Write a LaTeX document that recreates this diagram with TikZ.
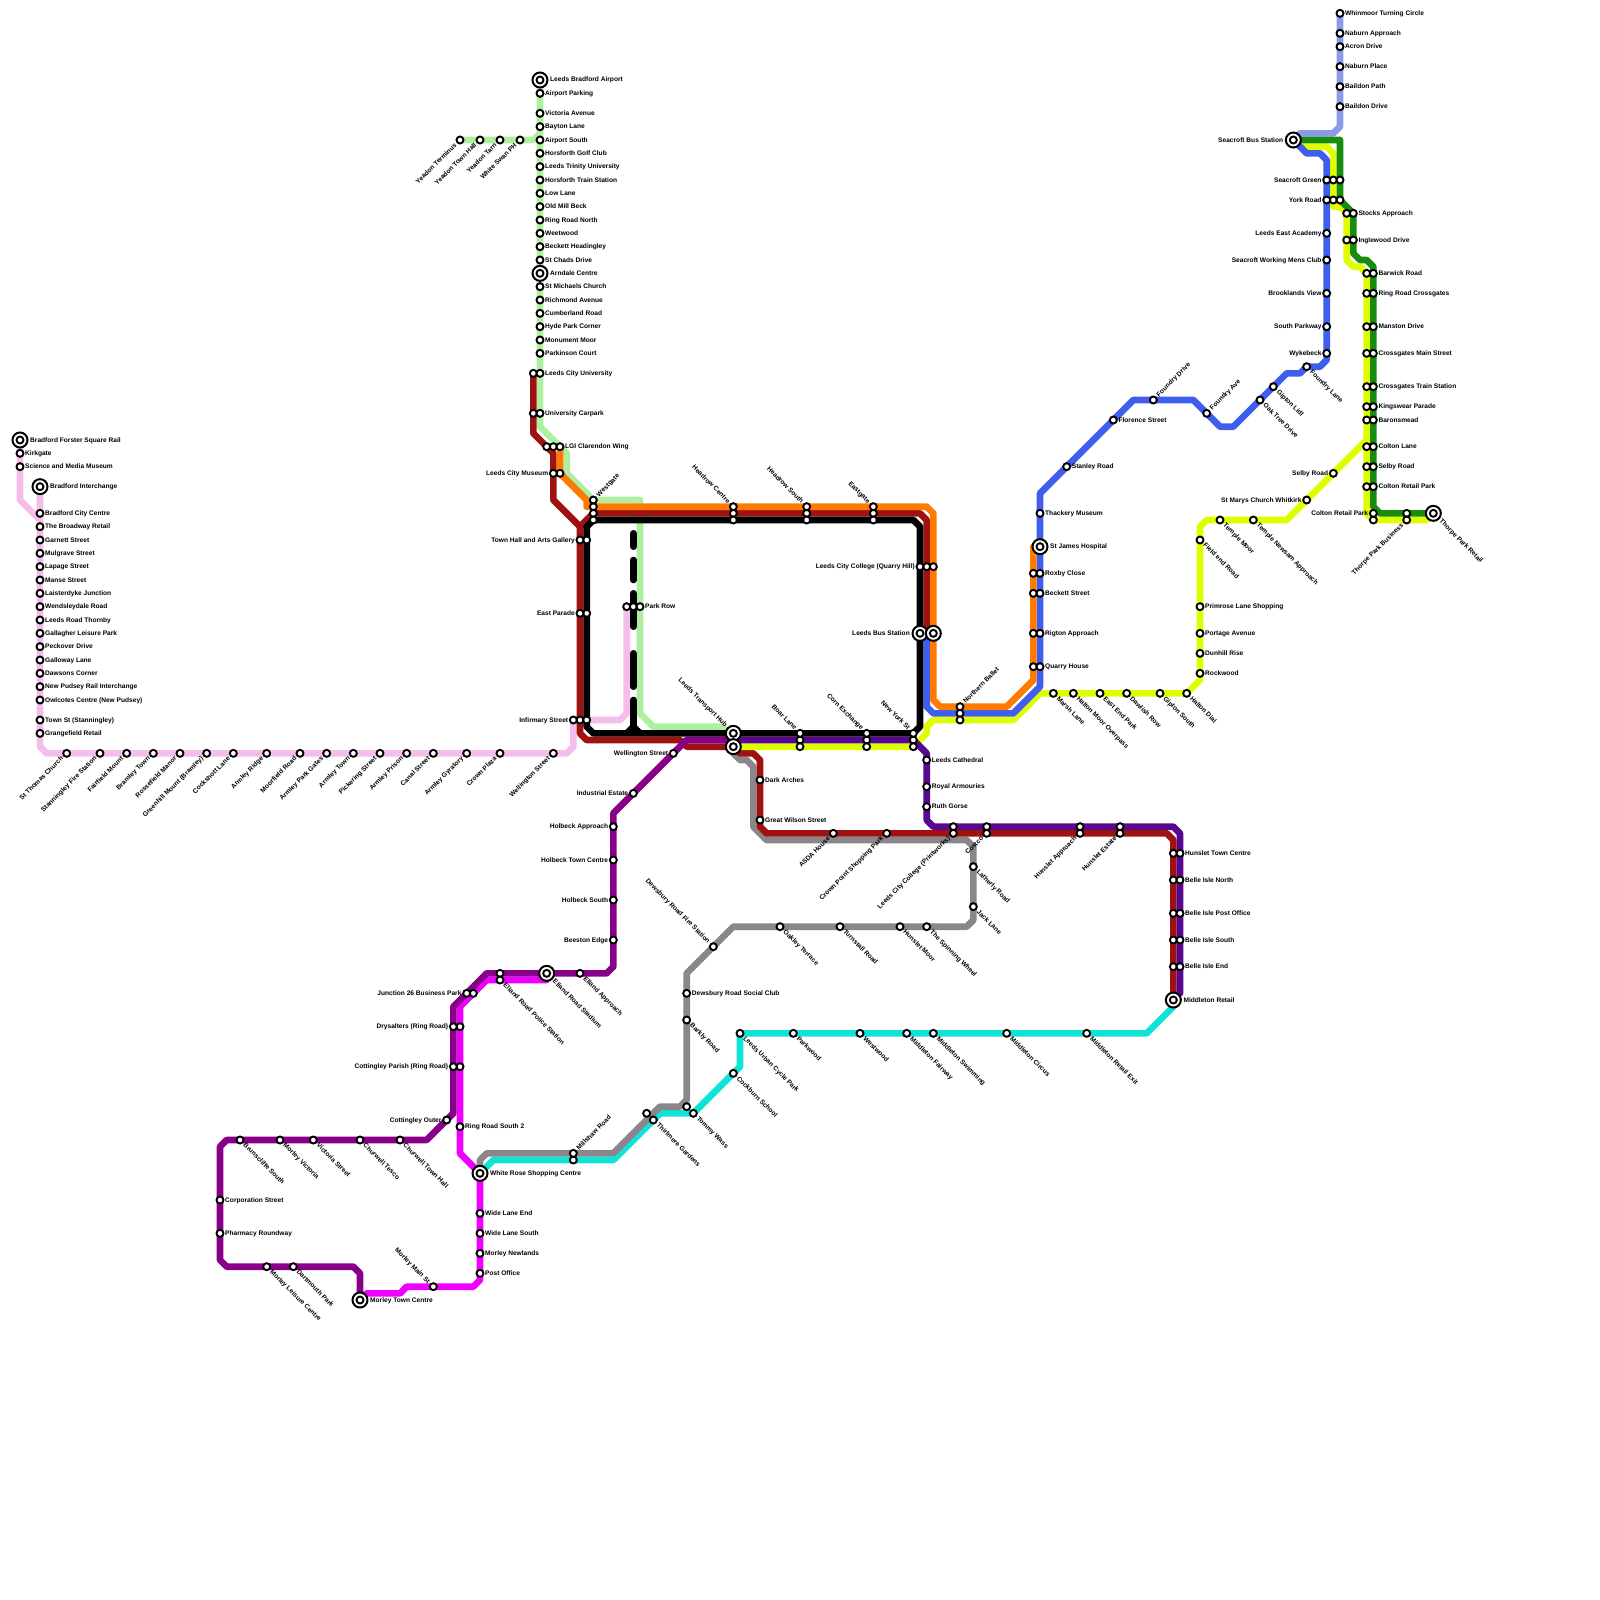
\documentclass[tikz,border=0pt]{standalone}
\usepackage{fontspec}
\setmainfont{Liberation Sans}
\definecolor{lnpink}{HTML}{F5BDEA}
\definecolor{lngreen}{HTML}{AEEFA2}
\definecolor{lnperi}{HTML}{8B9BE8}
\definecolor{lncyan}{HTML}{0FE3D6}
\definecolor{lnmagenta}{HTML}{EE00FF}
\definecolor{lngrey}{HTML}{8A868C}
\definecolor{lnred}{HTML}{9F1212}
\definecolor{lnpurple}{HTML}{880088}
\definecolor{lnlime}{HTML}{DFFF00}
\definecolor{lnblue}{HTML}{405EED}
\definecolor{lnorange}{HTML}{FF7A00}
\definecolor{lnforest}{HTML}{178C0E}
\definecolor{lnindigo}{HTML}{57088F}
\begin{document}
\begin{tikzpicture}[
  x=6.6667pt,y=-6.6667pt,
  route/.style={line width=6.6667pt, line cap=round, line join=round},
  stop/.style={circle, draw=black, fill=white, line width=1.9pt, minimum size=7pt, inner sep=0pt},
  hub/.style={circle, draw=black, fill=white, line width=2pt, minimum size=15pt, inner sep=0pt},
  lbl/.style={font=\bfseries\fontsize{6.6}{7}\selectfont, inner ysep=0pt, inner xsep=5pt, text height=5pt, text depth=1pt},
  lblr/.style={lbl, anchor=west},
  lbll/.style={lbl, anchor=east},
  lbldr/.style={lbl, rotate=-45, anchor=west, inner xsep=6pt},
  lblul/.style={lbl, rotate=-45, anchor=east, inner xsep=6pt},
  lblur/.style={lbl, rotate=45, anchor=west, inner xsep=6pt},
  lbldl/.style={lbl, rotate=45, anchor=east, inner xsep=6pt}
]
\useasboundingbox (0,0) rectangle (240,240);

% routes
\draw[route, lnpink] (3,66) -- (3,75) -- (6,78) (6,73) -- (6,112) -- (7,113) -- (85,113) -- (86,112) -- (86,108) -- (93,108) -- (94,107) -- (94,91);
\draw[route, lngreen] (69,21) -- (80,21) -- (81,20) (81,12) -- (81,64) -- (85,68) -- (85,71) -- (89,75) -- (96,75) -- (96,107) -- (98,109) -- (108,109) -- (110,110);
\draw[route, lnperi] (201,2) -- (201,19) -- (200,20) -- (195,20) -- (194,21);
\draw[route, lncyan] (72,176) -- (74,174) -- (92,174) -- (99,167) -- (104,167) -- (111,160) -- (111,155) -- (172,155) -- (176,151);
\draw[route, lnmagenta] (54,195) -- (55,194) -- (60,194) -- (61,193) -- (71,193) -- (72,192) -- (72,176) -- (69,173) -- (69,151) -- (73,147) -- (82,147);
\draw[route, lngrey] (72,176) -- (72,174) -- (73,173) -- (92,173) -- (99,166) -- (102,166) -- (103,165) -- (103,146) -- (110,139) -- (145,139) -- (146,138) -- (146,127) -- (145,126) -- (115,126) -- (113,124) -- (113,115) -- (112,114) -- (111,114) -- (110,113) -- (110,112);
\draw[route, lnred] (80,56) -- (80,65) -- (83,68) -- (83,75) -- (87,79) -- (87,110) -- (88,111) -- (102,111) -- (103,112) -- (110,112) -- (111,113) -- (113,113) -- (114,114) -- (114,124) -- (115,125) -- (175,125) -- (176,126) -- (176,150);
\draw[route, lnred] (87,79) -- (89,77) -- (138,77) -- (139,78) -- (139,95);
\draw[route, lnpurple] (110,111) -- (103,111) -- (92,122) -- (92,145) -- (91,146) -- (73,146) -- (68,151) -- (68,167) -- (64,171) -- (34,171) -- (33,172) -- (33,189) -- (34,190) -- (53,190) -- (54,191) -- (54,195);
\draw[route, lnlime] (110,112) -- (137,112) -- (139,110) -- (139,109) -- (140,108) -- (152,108) -- (156,104) -- (178,104) -- (180,102) -- (180,79) -- (181,78) -- (193,78) -- (205,66);
\draw[route, lnlime] (194,21) -- (195,22) -- (199,22) -- (200,23) -- (200,31) -- (201,31) -- (202,32) -- (202,39) -- (203,40) -- (204,40) -- (205,41) -- (205,77) -- (206,78) -- (214,78) -- (215,77);
\draw[route, lnblue] (139,95) -- (139,106) -- (140,107) -- (152,107) -- (156,103) -- (156,74) -- (170,60) -- (179,60) -- (183,64) -- (185,64) -- (193,56) -- (195,56) -- (196,55) -- (198,55) -- (199,54) -- (199,24) -- (198,23) -- (196,23) -- (194,21);
\draw[route, lnorange] (84,67) -- (84,71) -- (88,75) -- (88,76) -- (139,76) -- (140,77) -- (140,105) -- (141,106) -- (151,106) -- (155,102) -- (155,82) -- (156,82);
\draw[route, lnforest] (194,21) -- (201,21) -- (201,30) -- (203,32) -- (203,38) -- (204,39) -- (205,39) -- (206,40) -- (206,76) -- (207,77) -- (215,77);
\draw[route, lnindigo] (110,111) -- (137,111) -- (139,113) -- (139,123) -- (140,124) -- (176,124) -- (177,125) -- (177,149);
\draw[route, black] (89,78) -- (88,79) -- (88,109) -- (89,110) -- (137,110) -- (138,109) -- (138,79) -- (137,78) -- cycle;

% the dashed line
\foreach \ya/\yb in {80/82,84/87,89/94,98/103,105/109}
  \draw[route, black] (95,\ya) -- (95,\yb);
\draw[route, black, line cap=butt] (94,110) -- (95,109) -- (96,110);

% stops with no text of their own
\foreach \x/\y [count=\i] in {80/56,80/62,82/67,83/67,84/71,94/91,95/91,87/108,88/108,88/81,88/92,
  89/76,89/77,89/78,110/77,110/78,121/77,121/78,131/77,131/78,120/111,120/112,130/111,130/112,137/111,137/112,
  139/85,140/85,155/86,155/89,155/95,155/100,144/107,144/108,176/128,176/132,176/137,176/141,176/145,
  143/124,148/124,162/124,168/124,75/146,71/149,69/154,69/160,86/174,97/167,103/166,
  200/27,201/27,200/30,201/30,202/32,202/36,205/41,205/44,205/49,205/53,205/58,205/61,205/63,205/67,205/70,205/73,211/77,206/78}
  \node[stop] (plain\i) at (\x,\y) {};

% stops, text to the right
\foreach \x/\y/\t [count=\i] in {81/14/Airport Parking,81/17/Victoria Avenue,81/19/Bayton Lane,81/21/Airport South,
  81/23/Horsforth Golf Club,81/25/Leeds Trinity University,81/27/Horsforth Train Station,81/29/Low Lane,
  81/31/Old Mill Beck,81/33/Ring Road North,81/35/Weetwood,81/37/Beckett Headingley,81/39/St Chads Drive,
  81/43/St Michaels Church,81/45/Richmond Avenue,81/47/Cumberland Road,81/49/Hyde Park Corner,81/51/Monument Moor,
  81/53/Parkinson Court,81/56/Leeds City University,81/62/University Carpark,84/67/LGI Clarendon Wing,96/91/Park Row,
  3/68/Kirkgate,3/70/Science and Media Museum,6/77/Bradford City Centre,6/79/The Broadway Retail,6/81/Garnett Street,
  6/83/Mulgrave Street,6/85/Lapage Street,6/87/Manse Street,6/89/Laisterdyke Junction,6/91/Wendsleydale Road,
  6/93/Leeds Road Thornby,6/95/Gallagher Leisure Park,6/97/Peckover Drive,6/99/Galloway Lane,6/101/Dawsons Corner,
  6/103/New Pudsey Rail Interchange,6/105/Owlcotes Centre (New Pudsey),6/108/Town St (Stanningley),6/110/Grangefield Retail,
  114/117/Dark Arches,114/123/Great Wilson Street,139/114/Leeds Cathedral,139/118/Royal Armouries,139/121/Ruth Gorse,
  156/77/Thackery Museum,156/86/Roxby Close,156/89/Beckett Street,156/95/Rigton Approach,156/100/Quarry House,
  160/70/Stanley Road,167/63/Florence Street,177/128/Hunslet Town Centre,177/132/Belle Isle North,
  177/137/Belle Isle Post Office,177/141/Belle Isle South,177/145/Belle Isle End,180/91/Primrose Lane Shopping,
  180/95/Portage Avenue,180/98/Dunhill Rise,180/101/Rockwood,201/2/Whinmoor Turning Circle,201/5/Naburn Approach,
  201/7/Acron Drive,201/10/Naburn Place,201/13/Baildon Path,201/16/Baildon Drive,203/32/Stocks Approach,
  203/36/Inglewood Drive,206/41/Barwick Road,206/44/Ring Road Crossgates,206/49/Manston Drive,
  206/53/Crossgates Main Street,206/58/Crossgates Train Station,206/61/Kingswear Parade,206/63/Baronsmead,
  206/67/Colton Lane,206/70/Selby Road,206/73/Colton Retail Park,103/149/Dewsbury Road Social Club,
  69/169/Ring Road South 2,72/182/Wide Lane End,72/185/Wide Lane South,72/188/Morley Newlands,72/191/Post Office,
  33/180/Corporation Street,33/185/Pharmacy Roundway}{
  \node[stop] (right\i) at (\x,\y) {};
  \node[lblr] (rtext\i) at (\x,\y) {\t};
}

% stops, text to the left
\foreach \x/\y/\t [count=\i] in {83/71/Leeds City Museum,87/81/Town Hall and Arts Gallery,87/92/East Parade,
  86/108/Infirmary Street,95/119/Industrial Estate,92/124/Holbeck Approach,92/129/Holbeck Town Centre,
  92/135/Holbeck South,92/141/Beeston Edge,101/113/Wellington Street,70/149/Junction 26 Business Park,
  68/154/Drysalters (Ring Road),68/160/Cottingley Parish (Ring Road),67/168/Cottingley Outer,
  138/85/Leeds City College (Quarry Hill),199/27/Seacroft Green,199/30/York Road,199/35/Leeds East Academy,
  199/39/Seacroft Working Mens Club,199/44/Brooklands View,199/49/South Parkway,199/53/Wykebeck,200/71/Selby Road,
  196/75/St Marys Church Whitkirk,206/77/Colton Retail Park}{
  \node[stop] (left\i) at (\x,\y) {};
  \node[lbll] (ltext\i) at (\x,\y) {\t};
}

% stops, text falling to the right
\foreach \x/\y/\t [count=\i] in {36/171/Brunscliffe South,42/171/Morley Victoria,47/171/Victoria Street,
  54/171/Churwell Tesco,60/171/Churwell Town Hall,40/190/Morley Leisure Centre,44/190/Dartmouth Park,
  75/147/Elland Road Police Station,87/146/Elland Approach,98/168/Thirlmere Gardens,104/167/Tommy Wass,
  110/161/Cockburn School,111/155/Leeds Urban Cycle Park,119/155/Parkwood,129/155/Westwood,136/155/Middleton Fairway,
  140/155/Middleton Swimming,151/155/Middleton Circus,163/155/Middleton Retail Exit,103/153/Barkly Road,
  117/139/Oakley Terrace,126/139/Turnstall Road,135/139/Hunslet Moor,139/139/The Spinning Wheel,146/136/Jack Lane,
  146/130/Latherly Road,158/104/Marsh Lane,161/104/Halton Moor Overpass,165/104/East End Park,169/104/Dawlish Row,
  174/104/Gipton South,178/104/Halton Dial,180/81/Field end Road,183/78/Temple Moor,188/78/Temple Newsam Approach,
  191/58/Gipton Lidl,189/60/Oak Tree Drive,196/55/Foundry Lane}{
  \node[stop] (fall\i) at (\x,\y) {};
  \node[lbldr] (ftext\i) at (\x,\y) {\t};
}

% stops, text falling towards the stop
\foreach \x/\y/\t [count=\i] in {110/76/Headrow Centre,121/76/Headrow South,131/76/Eastgate,120/110/Boar Lane,
  130/110/Corn Exchange,137/110/New York St,107/142/Dewsbury Road Fire Station,65/193/Morley Main St}{
  \node[stop] (above\i) at (\x,\y) {};
  \node[lblul] (atext\i) at (\x,\y) {\t};
}

% stops, text rising from the stop
\foreach \x/\y/\t [count=\i] in {89/75/Westgate,144/106/Northern Ballet,173/60/Foundry Drive,181/62/Foundry Ave,86/173/Millshaw Road}{
  \node[stop] (rise\i) at (\x,\y) {};
  \node[lblur] (stext\i) at (\x,\y) {\t};
}

% stops, text rising towards the stop
\foreach \x/\y/\t [count=\i] in {10/113/St Thomas Church,15/113/Stanningley Fire Station,19/113/Fairfield Mount,
  23/113/Bramley Town,27/113/Rossefield Manor,31/113/Greenhill Mount (Bramley),35/113/Cockshott Lane,40/113/Armley Ridge,
  45/113/Moorfield Road,49/113/Armley Park Gates,53/113/Armley Town,57/113/Pickering Street,61/113/Armley Prison,
  65/113/Canal Street,70/113/Armley Gyratory,75/113/Crown Plaza,83/113/Wellington Street,69/21/Yeadon Terminus,
  72/21/Yeadon Town Hall,75/21/Yeadon Tarn,78/21/White Swan PH,125/125/ASDA House,133/125/Crown Point Shopping Park,
  143/125/Leeds City College (Printworks),148/125/Costco,162/125/Hunslet Approach,168/125/Hunslet Estate,
  211/78/Thorpe Park Business}{
  \node[stop] (below\i) at (\x,\y) {};
  \node[lbldl] (btext\i) at (\x,\y) {\t};
}

% interchanges
\foreach \x/\y/\t [count=\i] in {81/12/Leeds Bradford Airport,81/41/Arndale Centre,3/66/Bradford Forster Square Rail,
  6/73/Bradford Interchange,156/82/St James Hospital,72/176/White Rose Shopping Centre,176/150/Middleton Retail,
  54/195/Morley Town Centre}{
  \node[hub] (hubr\i) at (\x,\y) {};
  \node[stop] (hubri\i) at (\x,\y) {};
  \node[lblr, inner xsep=10pt] (hubrt\i) at (\x,\y) {\t};
}
\foreach \x/\y/\t [count=\i] in {194/21/Seacroft Bus Station,138/95/Leeds Bus Station}{
  \node[hub] (hubl\i) at (\x,\y) {};
  \node[stop] (hubli\i) at (\x,\y) {};
  \node[lbll, inner xsep=10pt] (hublt\i) at (\x,\y) {\t};
}
\foreach \x/\y/\t [count=\i] in {82/146/Elland Road Stadium,215/77/Thorpe Park Retail}{
  \node[hub] (hubf\i) at (\x,\y) {};
  \node[stop] (hubfi\i) at (\x,\y) {};
  \node[lbldr, inner xsep=10pt] (hubft\i) at (\x,\y) {\t};
}
\node[hub] (bus) at (140,95) {};
\node[stop] (busi) at (bus) {};
\node[hub] (lthub) at (110,110) {};
\node[stop] (lthubi) at (lthub) {};
\node[lblul, inner xsep=10pt] (lthubt) at (lthub) {Leeds Transport Hub};
\node[hub] (wlhub) at (110,112) {};
\node[stop] (wlhubi) at (wlhub) {};
\end{tikzpicture}
\end{document}
